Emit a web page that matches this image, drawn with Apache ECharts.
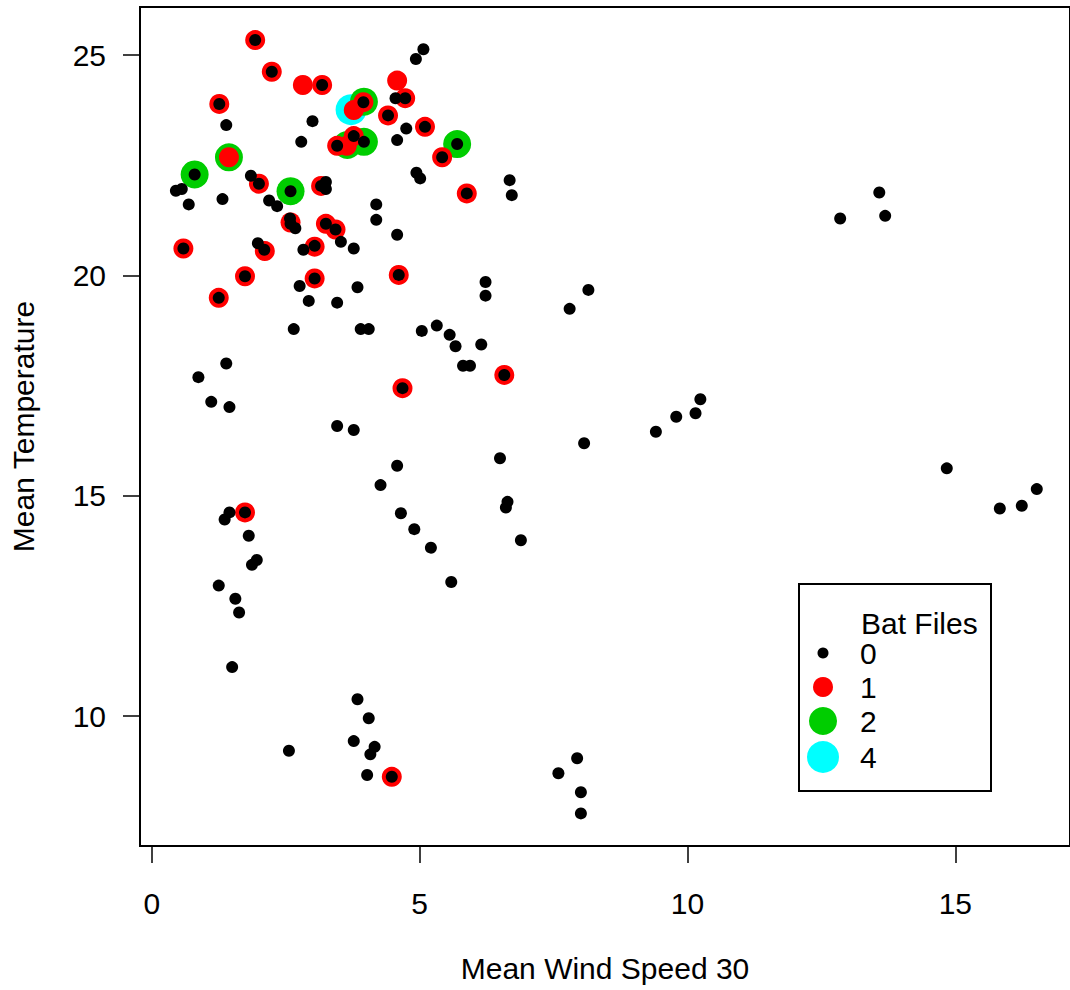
<!DOCTYPE html>
<html><head><meta charset="utf-8">
<script src="https://cdn.jsdelivr.net/npm/echarts@6/dist/echarts.min.js"></script>
<style>html,body{margin:0;padding:0;background:#fff}#c{width:1070px;height:990px}</style>
</head><body><div id="c"></div>
<script>
// ---- data ----
const batFileLevels = ['0', '1', '2', '4'];
const legendTitle = 'Bat Files';
const xTitle = 'Mean Wind Speed 30';
const yTitle = 'Mean Temperature';
const xTicks = [0, 5, 10, 15];
const yTicks = [10, 15, 20, 25];

// [mean wind speed, mean temperature]
const bat0 = [
  [1.93,25.34],[2.24,24.62],[3.18,24.32],[5.07,25.13],[4.93,24.91],[4.55,24.02],[4.73,24.02],[3.95,23.93],
  [4.41,23.63],[5.10,23.37],[4.75,23.33],[4.58,23.07],[3.00,23.50],[2.79,23.03],[1.26,23.89],[1.39,23.41],
  [3.46,22.94],[3.77,23.16],[3.96,23.03],[5.70,22.98],[5.42,22.68],[0.80,22.29],[0.45,21.92],[0.56,21.96],
  [0.69,21.61],[1.32,21.73],[1.85,22.26],[2.00,22.08],[2.59,21.91],[3.16,22.03],[3.25,22.12],[3.25,21.96],
  [4.94,22.33],[5.01,22.20],[5.88,21.86],[6.68,22.16],[6.72,21.82],[4.19,21.61],[4.19,21.26],[2.19,21.70],
  [2.34,21.57],[2.58,21.29],[2.59,21.17],[2.68,21.07],[3.25,21.17],[3.43,21.04],[3.53,20.76],[3.77,20.61],
  [4.58,20.92],[0.59,20.61],[1.98,20.73],[2.10,20.58],[3.04,20.67],[2.83,20.58],[1.74,19.98],[3.04,19.93],
  [4.61,20.01],[2.76,19.76],[3.84,19.73],[6.23,19.85],[6.23,19.54],[1.25,19.49],[2.93,19.42],[3.46,19.38],
  [7.80,19.24],[8.15,19.67],[2.65,18.78],[3.90,18.78],[4.05,18.78],[5.04,18.74],[5.32,18.86],[5.56,18.65],
  [5.67,18.39],[6.15,18.43],[5.81,17.95],[5.94,17.95],[6.58,17.74],[4.68,17.44],[1.39,18.00],[0.87,17.69],
  [1.11,17.13],[1.45,17.01],[3.46,16.58],[3.77,16.49],[8.07,16.19],[9.41,16.45],[9.79,16.79],[10.15,16.87],
  [10.24,17.19],[13.58,21.88],[12.85,21.29],[13.69,21.35],[6.50,15.85],[4.58,15.68],[4.27,15.24],[6.64,14.86],
  [6.61,14.73],[6.89,13.99],[4.65,14.60],[4.90,14.24],[5.21,13.82],[5.59,13.04],[1.74,14.62],[1.45,14.62],
  [1.36,14.46],[1.81,14.09],[1.87,13.43],[1.96,13.54],[1.25,12.96],[1.56,12.66],[1.63,12.35],[1.50,11.11],
  [3.84,10.38],[4.05,9.95],[3.77,9.43],[4.16,9.30],[4.08,9.13],[4.02,8.66],[4.48,8.62],[2.56,9.21],
  [7.59,8.70],[7.94,9.04],[8.01,8.27],[8.01,7.79],[14.84,15.62],[16.52,15.15],[16.24,14.77],[15.83,14.71]
];
const bat1 = [
  [1.93,25.34],[2.24,24.62],[2.82,24.32],[3.18,24.32],[4.58,24.42],[4.73,24.02],[3.77,23.75],[3.95,23.93],
  [4.41,23.63],[5.10,23.37],[1.26,23.89],[3.46,22.94],[3.64,22.94],[3.77,23.16],[5.42,22.68],[1.44,22.68],
  [2.00,22.08],[3.16,22.03],[5.88,21.86],[2.59,21.20],[3.25,21.17],[3.43,21.04],[0.59,20.61],[2.11,20.55],
  [3.04,20.65],[1.74,19.98],[3.04,19.93],[4.61,20.01],[1.25,19.49],[6.58,17.74],[4.68,17.44],[1.74,14.62],
  [4.48,8.62]
];
const bat2 = [[3.96,23.94],[5.70,22.98],[1.44,22.68],[0.80,22.29],[2.59,21.91],[3.65,22.96],[3.96,23.03]];
const bat4 = [[3.72,23.76]];

// ---- styles ----
const FONT = '"Liberation Sans", Arial, Helvetica, sans-serif';
const dataSets = [bat0, bat1, bat2, bat4];
const looks = [
  {color:'#000000', size:12, z:5, legendSize:11, legendCy:653},
  {color:'#ff0000', size:20, z:4, legendSize:20, legendCy:687},
  {color:'#00cd00', size:28, z:3, legendSize:28, legendCy:721},
  {color:'#00ffff', size:31, z:2, legendSize:32, legendCy:757}
];
const LEG_CX = 823, LEG_TEXT_X = 860;

const chart = echarts.init(document.getElementById('c'), null, {renderer:'svg'});

const series = batFileLevels.map((name, i) => ({
  name: name,
  type: 'scatter',
  data: dataSets[i],
  symbol: 'circle',
  symbolSize: looks[i].size,
  z: looks[i].z,
  itemStyle: {color: looks[i].color, opacity: 1},
  emphasis: {disabled: true},
  silent: true
}));

const legends = batFileLevels.map((name, i) => {
  const s = looks[i].legendSize;
  return {
    data: [name],
    left: LEG_CX - s / 2,
    top: looks[i].legendCy - Math.max(15, s / 2),
    padding: 0,
    itemWidth: s,
    itemHeight: s,
    icon: 'circle',
    selectedMode: false,
    textStyle: {fontSize: 30, color: '#000', fontFamily: FONT, padding: [0, 0, 0, LEG_TEXT_X - (LEG_CX + s / 2 + 5)]}
  };
});

const axisText = {fontSize: 30, color: '#000', fontFamily: FONT};

chart.setOption({
  animation: false,
  backgroundColor: '#ffffff',
  grid: {left: 137, top: 7, right: -7, bottom: 144, show: true, borderColor: '#000', borderWidth: 2, backgroundColor: 'transparent'},
  xAxis: {
    type: 'value', min: -0.22, max: 17.14,
    splitLine: {show: false},
    axisLine: {show: false, onZero: false},
    axisTick: {show: true, length: 17, lineStyle: {color: '#000', width: 1.5}, customValues: xTicks},
    axisLabel: Object.assign({customValues: xTicks, margin: 42}, axisText),
    name: xTitle, nameLocation: 'middle', nameGap: 107, nameTextStyle: axisText
  },
  yAxis: {
    type: 'value', min: 7.05, max: 26.09,
    splitLine: {show: false},
    axisLine: {show: false, onZero: false},
    axisTick: {show: true, length: 17, lineStyle: {color: '#000', width: 1.5}, customValues: yTicks},
    axisLabel: Object.assign({customValues: yTicks, margin: 34}, axisText),
    name: yTitle, nameLocation: 'middle', nameGap: 102, nameTextStyle: axisText
  },
  legend: legends,
  graphic: [
    {type: 'rect', shape: {x: 799, y: 584, width: 192, height: 207}, style: {fill: 'none', stroke: '#000', lineWidth: 2}, z: 10},
    {type: 'text', x: 861, y: 623, style: {text: legendTitle, fill: '#000', font: '30px ' + FONT, textVerticalAlign: 'middle', verticalAlign: 'middle'}, z: 10}
  ],
  series: series
});
</script></body></html>
